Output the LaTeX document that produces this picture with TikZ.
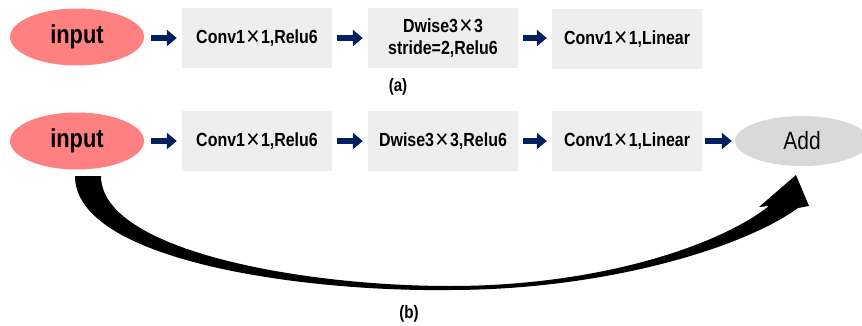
\documentclass[tikz,border=0pt]{standalone}
\usepackage{fontspec}
\setmainfont{Liberation Sans}
\newfontfamily\nsans[FakeStretch=0.84]{Liberation Sans}
\usetikzlibrary{arrows.meta,shapes.geometric}
\definecolor{inred}{RGB}{255,128,128}
\definecolor{boxgray}{RGB}{238,238,238}
\definecolor{addgray}{RGB}{217,217,217}
\definecolor{navyblk}{RGB}{0,32,96}
\definecolor{addtext}{RGB}{10,10,10}
\newcommand\tms{\makebox[16pt]{\mdseries\fontsize{27}{27}\selectfont\raisebox{-2pt}{×}}}
\begin{document}
\begin{tikzpicture}[x=1pt,y=-1pt,
  opbox/.style={fill=boxgray, minimum width=150pt, minimum height=60pt, inner sep=0pt,
    font=\nsans\bfseries\fontsize{19}{22}\selectfont, align=center},
  inell/.style={ellipse, fill=inred, minimum width=134pt, minimum height=57pt, inner sep=0pt,
    font=\nsans\bfseries\fontsize{26}{28}\selectfont},
  addell/.style={ellipse, fill=addgray, minimum width=134pt, minimum height=50pt, inner sep=0pt,
    text=addtext, font=\nsans\fontsize{25}{27}\selectfont},
  blk/.style={navyblk, line width=6pt, -{Triangle[length=10pt,width=16pt]}, shorten <=5pt, shorten >=5pt},
  caplbl/.style={font=\nsans\bfseries\fontsize{18}{20}\selectfont}]
\useasboundingbox (0,0) rectangle (862,326);
\clip (0,0) rectangle (862,326);
% row (a)
\node[inell] (ina) at (77,37) {input};
\node[opbox] (c1a) at (257,38) {Conv1\tms1,Relu6};
\node[opbox] (dwa) at (443,38) {Dwise3\tms3\\stride=2,Relu6};
\node[opbox] (lna) at (627,39) {Conv1\tms1,Linear};
\draw[blk, shorten <=7pt] (ina.east |- c1a.west) -- (c1a.west);
\draw[blk] (c1a.east) -- (dwa.west);
\draw[blk] (dwa.east) -- (dwa.east -| lna.west);
\node[caplbl] (capa) at (398,87) {(a)};
% row (b)
\node[inell] (inb) at (77,141) {input};
\node[opbox] (c1b) at (257,141) {Conv1\tms1,Relu6};
\node[opbox] (dwb) at (443,141) {Dwise3\tms3,Relu6};
\node[opbox] (lnb) at (627,141) {Conv1\tms1,Linear};
\node[addell] (add) at (802,141) {Add};
\draw[blk, shorten <=7pt] (inb.east) -- (c1b.west);
\draw[blk] (c1b.east) -- (dwb.west);
\draw[blk] (dwb.east) -- (lnb.west);
\draw[blk, shorten <=3pt, shorten >=3pt] (lnb.east) -- (add.west);
\node[caplbl] (capb) at (409,314) {(b)};
% tapered skip connection
\fill[black] (75,176) -- (101,176)
  .. controls (101,250) and (300,286) .. (450,286)
  .. controls (600,286) and (720,245) .. (769,206)
  -- (759,207) -- (796,175) -- (809,206) -- (798,208)
  .. controls (740,250) and (600,290) .. (450,290)
  .. controls (300,292) and (75,260) .. (75,176) -- cycle;
\end{tikzpicture}
\end{document}
